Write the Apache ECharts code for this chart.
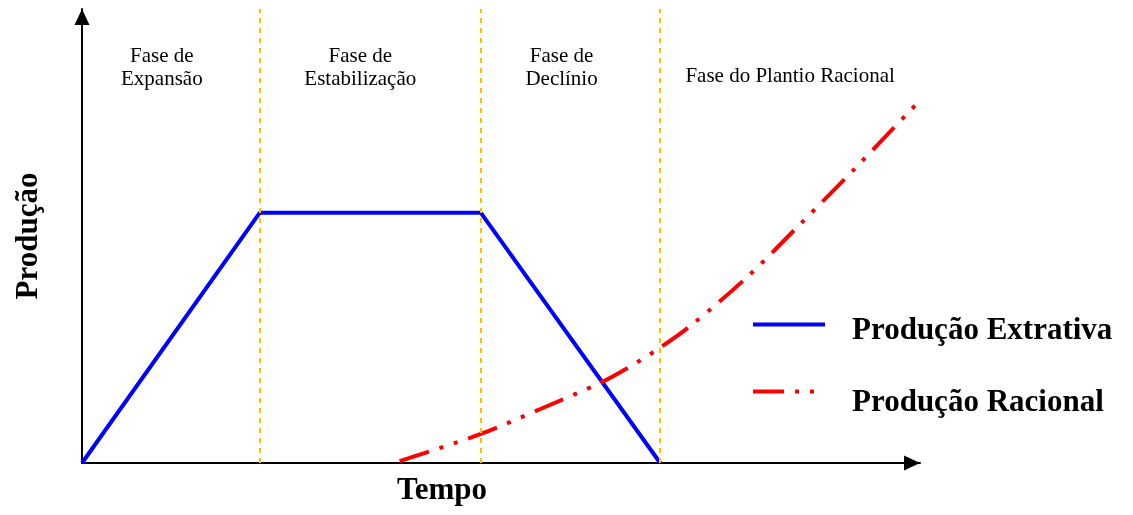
<!DOCTYPE html>
<html>
<head>
<meta charset="utf-8">
<script src="https://cdn.jsdelivr.net/npm/echarts@6/dist/echarts.min.js"></script>
<style>
  html, body { margin: 0; padding: 0; background: #fff; }
  #chart { width: 1133px; height: 515px; }
</style>
</head>
<body>
<div id="chart"></div>
<script>
// tempo (0-100) e produção (0-100), unidades relativas
const extrativaX = [0, 21.2, 47.6, 69.0];
const extrativaY = [0, 55.1, 55.1, 0];

const racionalX = [37.9, 47.6, 54.7, 61.8, 64.9, 68.9, 72.6, 79.4, 85.8, 92.2, 99.8];
const racionalY = [0.4, 6.4, 11.9, 17.6, 20.7, 25.3, 30.2, 41.0, 52.8, 64.8, 79.5];

// limites das fases
const phaseBounds = [0, 21.2, 47.6, 69.0, 100];
const phaseNames = [
  "Fase de\nExpansão",
  "Fase de\nEstabilização",
  "Fase de\nDeclínio",
  "Fase do Plantio Racional"
];

const serif = "'Liberation Serif', 'Times New Roman', serif";
const chart = echarts.init(document.getElementById("chart"));

const zip = (xs, ys) => xs.map((x, i) => [x, ys[i]]);

// etiquetas das fases (deslocamento fino)
const phaseOffsets = [[-9, 0], [-10, 0], [-9, 0], [0, 20]];
const areas = phaseNames.map((name, i) => [
  {
    xAxis: phaseBounds[i],
    name: name,
    label: { offset: phaseOffsets[i] }
  },
  { xAxis: phaseBounds[i + 1] }
]);

const axisLine = {
  show: true,
  symbol: ["none", "triangle"],
  symbolSize: [15, 16],
  symbolOffset: [0, -8],
  lineStyle: { color: "#000", width: 2 }
};

const legendText = {
  fontFamily: serif,
  fontWeight: "bold",
  fontSize: 31,
  lineHeight: 31,
  color: "#000",
  padding: [0, 0, 0, 22]
};

const option = {
  backgroundColor: "#fff",
  animation: false,
  grid: { left: 82, right: 213, top: 9, bottom: 52 },
  xAxis: {
    type: "value",
    min: 0,
    max: 100,
    axisLine: axisLine,
    axisTick: { show: false },
    axisLabel: { show: false },
    splitLine: { show: false },
    name: "Tempo",
    nameLocation: "middle",
    nameGap: 12,
    nameTextStyle: {
      fontFamily: serif,
      fontWeight: "bold",
      fontSize: 31,
      color: "#000",
      padding: [0, 118, 0, 0]
    }
  },
  yAxis: {
    type: "value",
    min: 0,
    max: 100,
    axisLine: axisLine,
    axisTick: { show: false },
    axisLabel: { show: false },
    splitLine: { show: false },
    name: "Produção",
    nameLocation: "middle",
    nameRotate: 90,
    nameGap: 38,
    nameTextStyle: {
      fontFamily: serif,
      fontWeight: "bold",
      fontSize: 31,
      color: "#000"
    }
  },
  legend: [
    {
      left: 753,
      top: 315,
      padding: 0,
      itemWidth: 72,
      itemHeight: 16,
      data: [{
        name: "Produção Extrativa",
        icon: "path://M0,0h72v4h-72zM0,15.99h0.01v0.01h-0.01z"
      }],
      textStyle: legendText
    },
    {
      left: 753,
      top: 387,
      padding: 0,
      itemWidth: 72,
      itemHeight: 26,
      data: [{
        name: "Produção Racional",
        icon: "path://M0,0h31v4h-31zM42,0h4v4h-4zM57,0h4v4h-4zM71.99,25.99h0.01v0.01h-0.01z"
      }],
      textStyle: legendText
    }
  ],
  series: [
    {
      name: "Produção Extrativa",
      type: "line",
      data: zip(extrativaX, extrativaY),
      symbol: "none",
      z: 3,
      lineStyle: { color: "#0000FF", width: 4 },
      itemStyle: { color: "#0000FF" },
      markLine: {
        silent: true,
        symbol: "none",
        label: { show: false },
        lineStyle: { color: "#FFC000", width: 2, type: [5, 5] },
        data: phaseBounds.slice(1, 4).map(v => ({ xAxis: v }))
      },
      markArea: {
        silent: true,
        itemStyle: { color: "rgba(0,0,0,0)" },
        label: {
          show: true,
          position: "insideTop",
          distance: 36,
          fontFamily: serif,
          fontSize: 21,
          lineHeight: 23,
          color: "#000",
          align: "center"
        },
        data: areas
      }
    },
    {
      name: "Produção Racional",
      type: "line",
      data: zip(racionalX, racionalY),
      symbol: "none",
      smooth: 0.3,
      z: 4,
      lineStyle: { color: "#FF0000", width: 4, type: [31, 11, 4, 11, 4, 11] },
      itemStyle: { color: "#FF0000" }
    }
  ]
};

chart.setOption(option);
</script>
</body>
</html>
